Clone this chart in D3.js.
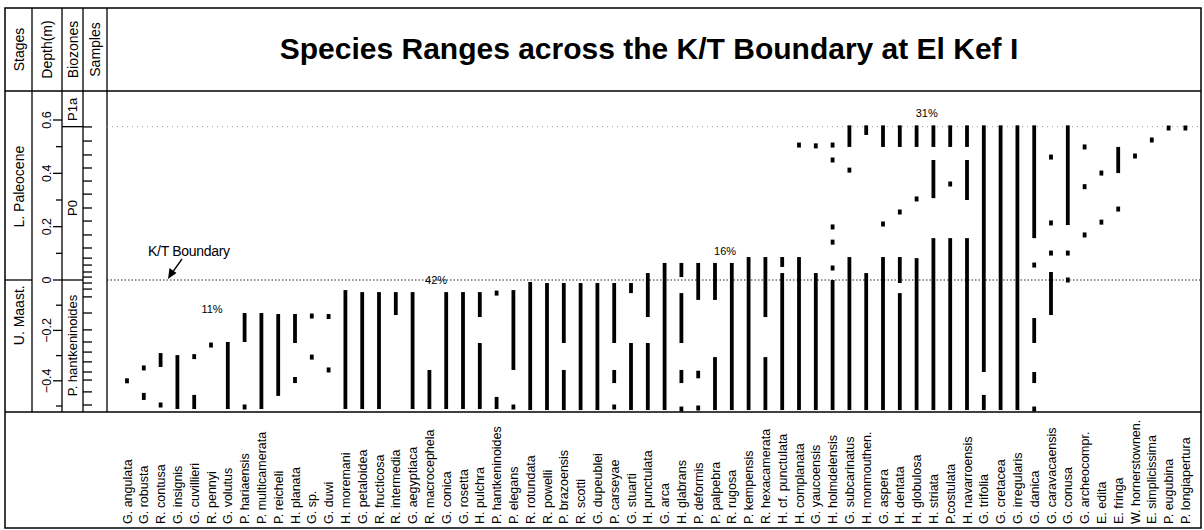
<!DOCTYPE html>
<html>
<head>
<meta charset="utf-8">
<script src="https://cdn.jsdelivr.net/npm/d3@7"></script>
<style>
    body { margin: 0; background: #fff; }
    svg { display: block; font-family: "Liberation Sans", Arial, Helvetica, sans-serif; }
</style>
</head>
<body>
<div id="chart"></div>
<script>
// species in plotted order (left to right)
var species = ["G. angulata", "G. robusta", "R. contusa", "G. insignis", "G. cuvillieri", "R. pennyi",
    "G. volutus", "P. hariaensis", "P. multicamerata", "P. reicheli", "H. planata", "G. sp.", "G. duwi",
    "H. moremani", "G. petaloidea", "R. fructicosa", "R. intermedia", "G. aegyptiaca", "R. macrocephela",
    "G. conica", "G. rosetta", "H. pulchra", "P. hantkeninoides", "P. elegans", "R. rotundata", "R. powelli",
    "P. brazoensis", "R. scotti", "G. dupeublei", "P. carseyae", "G. stuarti", "H. punctulata", "G. arca",
    "H. glabrans", "P. deformis", "P. palpebra", "R. rugosa", "P. kempensis", "R. hexacamerata",
    "H. cf. punctulata", "H. complanata", "G. yaucoensis", "H. holmdelensis", "G. subcarinatus",
    "H. monmouthen.", "G. aspera", "H. dentata", "H. globulosa", "H. striata", "P.costulata",
    "H. navarroensis", "G. trifolia", "G. cretacea", "G. irregularis", "G. danica", "G. caravacaensis",
    "G. conusa", "G. archeocompr.", "E. edita", "E. fringa", "W. hornerstownen.", "E. simplicissima",
    "P. eugubina", "P. longiapertura"];

// occurrence intervals per species, depth in m [low, high]; equal values = single sample
var ranges = [
    [[-0.40, -0.40]],
    [[-0.349, -0.349], [-0.476, -0.448]],
    [[-0.345, -0.29], [-0.496, -0.496]],
    [[-0.512, -0.298]],
    [[-0.31, -0.298], [-0.512, -0.456]],
    [[-0.266, -0.25]],
    [[-0.512, -0.246]],
    [[-0.246, -0.131], [-0.504, -0.504]],
    [[-0.512, -0.131]],
    [[-0.46, -0.135]],
    [[-0.25, -0.135], [-0.409, -0.385]],
    [[-0.147, -0.139], [-0.306, -0.306]],
    [[-0.151, -0.139], [-0.357, -0.357]],
    [[-0.512, -0.04]],
    [[-0.512, -0.048]],
    [[-0.512, -0.048]],
    [[-0.139, -0.048]],
    [[-0.512, -0.048]],
    [[-0.512, -0.357]],
    [[-0.512, -0.048]],
    [[-0.512, -0.048]],
    [[-0.147, -0.048], [-0.512, -0.25]],
    [[-0.052, -0.052], [-0.512, -0.464]],
    [[-0.357, -0.04], [-0.504, -0.504]],
    [[-0.516, -0.008]],
    [[-0.516, -0.012]],
    [[-0.25, -0.012], [-0.516, -0.357]],
    [[-0.516, -0.012]],
    [[-0.516, -0.012]],
    [[-0.25, -0.012], [-0.409, -0.357], [-0.504, -0.504]],
    [[-0.052, -0.012], [-0.516, -0.25]],
    [[-0.147, 0.026], [-0.516, -0.25]],
    [[-0.516, 0.064]],
    [[0.011, 0.064], [-0.25, -0.052], [-0.409, -0.357], [-0.512, -0.512]],
    [[-0.079, 0.064], [-0.39, -0.36], [-0.508, -0.508]],
    [[-0.079, 0.064], [-0.516, -0.306]],
    [[-0.516, 0.064]],
    [[-0.516, 0.086]],
    [[-0.147, 0.086], [-0.516, -0.306]],
    [[0.049, 0.086], [-0.516, 0.026]],
    [[0.506, 0.506], [-0.516, 0.086]],
    [[0.503, 0.503], [-0.516, 0.026]],
    [[0.506, 0.506], [0.45, 0.45], [0.199, 0.199], [0.142, 0.142], [0.045, 0.045], [-0.516, 0]],
    [[0.499, 0.58], [0.412, 0.412], [-0.516, 0.086]],
    [[0.544, 0.58], [-0.516, 0.026]],
    [[0.499, 0.58], [0.21, 0.21], [-0.516, 0.086]],
    [[0.499, 0.58], [0.255, 0.255], [-0.012, 0.086], [-0.516, -0.052]],
    [[0.499, 0.58], [0.304, 0.304], [-0.516, 0.082]],
    [[0.499, 0.58], [0.307, 0.45], [-0.516, 0.157]],
    [[0.499, 0.58], [0.36, 0.36], [-0.516, 0.157]],
    [[0.499, 0.58], [0.3, 0.45], [-0.516, 0.157]],
    [[-0.365, 0.58], [-0.516, -0.456]],
    [[-0.516, 0.58]],
    [[-0.516, 0.58]],
    [[0.157, 0.58], [0.056, 0.056], [-0.25, -0.151], [-0.409, -0.365], [-0.512, -0.512]],
    [[0.461, 0.461], [0.214, 0.214], [0.101, 0.101], [-0.139, 0.03]],
    [[0.206, 0.58], [0.101, 0.101], [0, 0]],
    [[0.499, 0.499], [0.35, 0.35], [0.169, 0.169]],
    [[0.401, 0.401], [0.217, 0.217]],
    [[0.401, 0.499], [0.266, 0.266]],
    [[0.465, 0.465]],
    [[0.525, 0.525]],
    [[0.57, 0.57]],
    [[0.57, 0.57]]
];

var depthLabels = [-0.4, -0.2, 0, 0.2, 0.4, 0.6];
var depthMinor = [-0.5, -0.4, -0.3, -0.2, -0.1, 0, 0.1, 0.2, 0.3, 0.4, 0.5, 0.6];
var sampleDepths = [0.574, 0.521, 0.469, 0.42, 0.371, 0.322, 0.27, 0.221, 0.169, 0.12, 0.082, 0.056,
    0.03, 0.011, -0.012, -0.036, -0.067, -0.131, -0.198, -0.246, -0.286, -0.325, -0.365, -0.397,
    -0.444, -0.496];

var stages = [
    {name: "L. Paleocene", base: 0, at: 0.35},
    {name: "U. Maast.", base: -0.53, at: -0.14}
];
var biozones = [
    {name: "P1a", base: 0.575, at: 0.64},
    {name: "P0", base: 0, at: 0.27},
    {name: "P. hantkeninoides", base: -0.53, at: -0.26}
];
// percentage notes: text, position in species steps, depth
var notes = [
    {text: "11%", at: 5.06, depth: -0.115},
    {text: "42%", at: 18.4, depth: 0},
    {text: "16%", at: 35.6, depth: 0.108},
    {text: "31%", at: 47.6, depth: 0.626}
];

var width = 1204,
    height = 530;

var svg = d3.select("#chart")
    .append("svg")
    .attr("width", width)
    .attr("height", height);

var frame = {left: 5, top: 8, right: 1201, bottom: 528},
    headBottom = 91,
    plotLeft = 107,
    plotBottom = 412,
    cols = [5, 32, 62, 83, 107];

var x = d3.scalePoint().domain(species).range([127, 1185.4]);
var xStep = d3.scaleLinear().domain([0, species.length - 1]).range(x.range());
var y = d3.scaleLinear().domain([-0.5, 0, 0.6]).range([406, 280, 120]);

function line(x1, y1, x2, y2, w) {
    svg.append("line")
        .attr("x1", x1).attr("y1", y1).attr("x2", x2).attr("y2", y2)
        .attr("stroke", "#000")
        .attr("stroke-width", w || 1.3);
}

// outer frame and grid
svg.append("rect")
    .attr("x", frame.left).attr("y", frame.top)
    .attr("width", frame.right - frame.left).attr("height", frame.bottom - frame.top)
    .attr("fill", "none").attr("stroke", "#000").attr("stroke-width", 1.5);
line(frame.left, headBottom, frame.right, headBottom, 1.5);
line(frame.left, plotBottom, frame.right, plotBottom, 1.5);
cols.slice(1).forEach(function (c) {
    line(c, frame.top, c, plotBottom, 1.3);
});

// header texts
var heads = ["Stages", "Depth(m)", "Biozones", "Samples"];
heads.forEach(function (h, i) {
    svg.append("text")
        .attr("transform", "translate(" + ((cols[i] + cols[i + 1]) / 2 + 5) + "," + ((frame.top + headBottom) / 2) + ") rotate(-90)")
        .attr("text-anchor", "middle")
        .style("font-size", "14px")
        .text(h);
});

svg.append("text")
    .attr("x", 649).attr("y", 59)
    .attr("text-anchor", "middle")
    .style("font-size", "30px")
    .style("font-weight", "bold")
    .text("Species Ranges across the K/T Boundary at El Kef I");

// stages column
stages.forEach(function (s) {
    if (s.base > -0.5) line(cols[0], y(s.base), cols[1], y(s.base), 1.3);
    svg.append("text")
        .attr("transform", "translate(" + ((cols[0] + cols[1]) / 2 + 5) + "," + y(s.at) + ") rotate(-90)")
        .attr("text-anchor", "middle")
        .style("font-size", "14px")
        .text(s.name);
});

// biozones column
biozones.forEach(function (b) {
    if (b.base > -0.5) line(cols[2], y(b.base), cols[3], y(b.base), 1.3);
    svg.append("text")
        .attr("transform", "translate(" + ((cols[2] + cols[3]) / 2 + 4.5) + "," + y(b.at) + ") rotate(-90)")
        .attr("text-anchor", "middle")
        .style("font-size", "13px")
        .text(b.name);
});

// depth scale
depthMinor.forEach(function (d) {
    var major = depthLabels.indexOf(d) > -1;
    line(cols[2] - (major ? 9 : 6), y(d), cols[2], y(d), 1.3);
});
depthLabels.forEach(function (d) {
    svg.append("text")
        .attr("transform", "translate(" + 51 + "," + y(d) + ") rotate(-90)")
        .attr("text-anchor", "middle")
        .style("font-size", "12.5px")
        .text(d === 0 ? "0" : d3.format(".1f")(d));
});

// samples
sampleDepths.forEach(function (s) {
    line(cols[3], y(s), cols[3] + 9, y(s), 1.3);
});

// reference lines
svg.append("line")
    .attr("x1", plotLeft).attr("x2", frame.right)
    .attr("y1", y(0)).attr("y2", y(0))
    .attr("stroke", "#222").attr("stroke-width", 1)
    .attr("stroke-dasharray", "1.5,2");
svg.append("line")
    .attr("x1", plotLeft).attr("x2", frame.right)
    .attr("y1", y(0.575)).attr("y2", y(0.575))
    .attr("stroke", "#999").attr("stroke-width", 1)
    .attr("stroke-dasharray", "1,4");

// range bars
var cells = [];
ranges.forEach(function (segs, i) {
    segs.forEach(function (s) {
        cells.push({name: species[i], lo: s[0], hi: s[1]});
    });
});
svg.selectAll(".range")
    .data(cells)
    .enter().append("rect")
    .attr("class", "range")
    .attr("x", function (d) { return x(d.name) - 1.9; })
    .attr("width", 3.8)
    .attr("y", function (d) {
        var h = y(d.lo) - y(d.hi);
        return h < 5 ? (y(d.lo) + y(d.hi)) / 2 - 2.5 : y(d.hi);
    })
    .attr("height", function (d) { return Math.max(5, y(d.lo) - y(d.hi)); })
    .attr("fill", "#000");

// species names
svg.selectAll(".sp")
    .data(species)
    .enter().append("text")
    .attr("class", "sp")
    .attr("transform", function (d) { return "translate(" + (x(d) + 4.5) + ",524) rotate(-90)"; })
    .style("font-size", "12.5px")
    .text(function (d) { return d; });

// percentages
svg.selectAll(".note")
    .data(notes)
    .enter().append("text")
    .attr("class", "note")
    .attr("x", function (d) { return xStep(d.at); })
    .attr("y", function (d) { return y(d.depth) + 4; })
    .attr("text-anchor", "middle")
    .style("font-size", "11px")
    .text(function (d) { return d.text; });

// K/T boundary label
svg.append("text")
    .attr("x", 148).attr("y", 256)
    .style("font-size", "14px")
    .style("letter-spacing", "-0.3px")
    .text("K/T Boundary");
svg.append("line")
    .attr("x1", 182).attr("y1", 259).attr("x2", 172).attr("y2", 273)
    .attr("stroke", "#000").attr("stroke-width", 1.3);
svg.append("path")
    .attr("d", "M168,279 L169.5,268 L176.5,273 Z")
    .attr("fill", "#000");
</script>
</body>
</html>
